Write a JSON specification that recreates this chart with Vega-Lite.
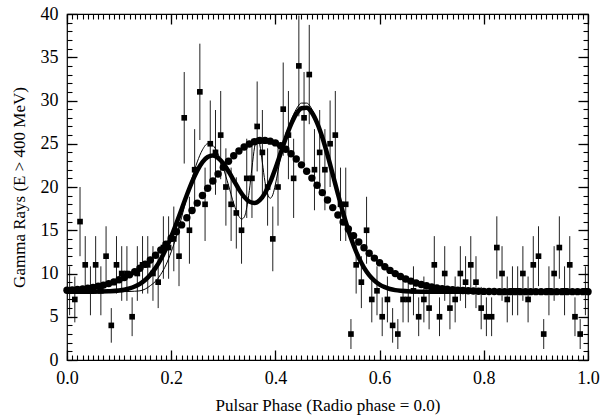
{
  "$schema": "https://vega.github.io/schema/vega-lite/v6.json",
  "width": 521,
  "height": 346,
  "autosize": "none",
  "padding": {"left": 67, "top": 14, "right": 17, "bottom": 56},
  "background": "white",
  "config": {
    "view": {"stroke": "black", "strokeWidth": 1.2},
    "font": "Liberation Serif"
  },
  "datasets": {
    "obs": [
      {"phase":0.005,"counts":8,"lo":5.17,"hi":10.83},{"phase":0.015,"counts":7,"lo":4.35,"hi":9.65},{"phase":0.025,"counts":16,"lo":12,"hi":20},{"phase":0.035,"counts":11,"lo":7.68,"hi":14.32},{"phase":0.045,"counts":8,"lo":5.17,"hi":10.83},
      {"phase":0.055,"counts":11,"lo":7.68,"hi":14.32},{"phase":0.065,"counts":8,"lo":5.17,"hi":10.83},{"phase":0.075,"counts":12,"lo":8.54,"hi":15.46},{"phase":0.085,"counts":4,"lo":2,"hi":6},{"phase":0.095,"counts":11,"lo":7.68,"hi":14.32},
      {"phase":0.105,"counts":10,"lo":6.84,"hi":13.16},{"phase":0.115,"counts":10,"lo":6.84,"hi":13.16},{"phase":0.125,"counts":5,"lo":2.76,"hi":7.24},{"phase":0.135,"counts":10,"lo":6.84,"hi":13.16},{"phase":0.145,"counts":11,"lo":7.68,"hi":14.32},
      {"phase":0.155,"counts":11,"lo":7.68,"hi":14.32},{"phase":0.165,"counts":10,"lo":6.84,"hi":13.16},{"phase":0.175,"counts":9,"lo":6,"hi":12},{"phase":0.185,"counts":13,"lo":9.39,"hi":16.61},{"phase":0.195,"counts":13,"lo":9.39,"hi":16.61},
      {"phase":0.205,"counts":14,"lo":10.26,"hi":17.74},{"phase":0.215,"counts":12,"lo":8.54,"hi":15.46},{"phase":0.225,"counts":28,"lo":22.71,"hi":33.29},{"phase":0.235,"counts":15,"lo":11.13,"hi":18.87},{"phase":0.245,"counts":22,"lo":17.31,"hi":26.69},
      {"phase":0.255,"counts":31,"lo":25.43,"hi":36.57},{"phase":0.265,"counts":18,"lo":13.76,"hi":22.24},{"phase":0.275,"counts":25,"lo":20,"hi":30},{"phase":0.285,"counts":24,"lo":19.1,"hi":28.9},{"phase":0.295,"counts":26,"lo":20.9,"hi":31.1},
      {"phase":0.305,"counts":20,"lo":15.53,"hi":24.47},{"phase":0.315,"counts":18,"lo":13.76,"hi":22.24},{"phase":0.325,"counts":17,"lo":12.88,"hi":21.12},{"phase":0.335,"counts":15,"lo":11.13,"hi":18.87},{"phase":0.345,"counts":21,"lo":16.42,"hi":25.58},
      {"phase":0.355,"counts":21,"lo":16.42,"hi":25.58},{"phase":0.365,"counts":27,"lo":21.8,"hi":32.2},{"phase":0.375,"counts":24,"lo":19.1,"hi":28.9},{"phase":0.385,"counts":20,"lo":15.53,"hi":24.47},{"phase":0.395,"counts":14,"lo":10.26,"hi":17.74},
      {"phase":0.405,"counts":20,"lo":15.53,"hi":24.47},{"phase":0.415,"counts":29,"lo":23.61,"hi":34.39},{"phase":0.425,"counts":26,"lo":20.9,"hi":31.1},{"phase":0.435,"counts":21,"lo":16.42,"hi":25.58},{"phase":0.445,"counts":34,"lo":28.17,"hi":39.83},
      {"phase":0.455,"counts":28,"lo":22.71,"hi":33.29},{"phase":0.465,"counts":33,"lo":27.26,"hi":38.74},{"phase":0.475,"counts":22,"lo":17.31,"hi":26.69},{"phase":0.485,"counts":24,"lo":19.1,"hi":28.9},{"phase":0.495,"counts":22,"lo":17.31,"hi":26.69},
      {"phase":0.505,"counts":25,"lo":20,"hi":30},{"phase":0.515,"counts":26,"lo":20.9,"hi":31.1},{"phase":0.525,"counts":18,"lo":13.76,"hi":22.24},{"phase":0.535,"counts":18,"lo":13.76,"hi":22.24},{"phase":0.545,"counts":3,"lo":1.27,"hi":4.73},
      {"phase":0.555,"counts":11,"lo":7.68,"hi":14.32},{"phase":0.565,"counts":9,"lo":6,"hi":12},{"phase":0.575,"counts":15,"lo":11.13,"hi":18.87},{"phase":0.585,"counts":7,"lo":4.35,"hi":9.65},{"phase":0.595,"counts":8,"lo":5.17,"hi":10.83},
      {"phase":0.605,"counts":5,"lo":2.76,"hi":7.24},{"phase":0.615,"counts":7,"lo":4.35,"hi":9.65},{"phase":0.625,"counts":4,"lo":2,"hi":6},{"phase":0.635,"counts":3,"lo":1.27,"hi":4.73},{"phase":0.645,"counts":7,"lo":4.35,"hi":9.65},
      {"phase":0.655,"counts":7,"lo":4.35,"hi":9.65},{"phase":0.665,"counts":8,"lo":5.17,"hi":10.83},{"phase":0.675,"counts":5,"lo":2.76,"hi":7.24},{"phase":0.685,"counts":7,"lo":4.35,"hi":9.65},{"phase":0.695,"counts":6,"lo":3.55,"hi":8.45},
      {"phase":0.705,"counts":11,"lo":7.68,"hi":14.32},{"phase":0.715,"counts":5,"lo":2.76,"hi":7.24},{"phase":0.725,"counts":10,"lo":6.84,"hi":13.16},{"phase":0.735,"counts":6,"lo":3.55,"hi":8.45},{"phase":0.745,"counts":7,"lo":4.35,"hi":9.65},
      {"phase":0.755,"counts":10,"lo":6.84,"hi":13.16},{"phase":0.765,"counts":9,"lo":6,"hi":12},{"phase":0.775,"counts":11,"lo":7.68,"hi":14.32},{"phase":0.785,"counts":9,"lo":6,"hi":12},{"phase":0.795,"counts":6,"lo":3.55,"hi":8.45},
      {"phase":0.805,"counts":5,"lo":2.76,"hi":7.24},{"phase":0.815,"counts":5,"lo":2.76,"hi":7.24},{"phase":0.825,"counts":13,"lo":9.39,"hi":16.61},{"phase":0.835,"counts":10,"lo":6.84,"hi":13.16},{"phase":0.845,"counts":7,"lo":4.35,"hi":9.65},
      {"phase":0.855,"counts":8,"lo":5.17,"hi":10.83},{"phase":0.865,"counts":8,"lo":5.17,"hi":10.83},{"phase":0.875,"counts":10,"lo":6.84,"hi":13.16},{"phase":0.885,"counts":7,"lo":4.35,"hi":9.65},{"phase":0.895,"counts":11,"lo":7.68,"hi":14.32},
      {"phase":0.905,"counts":12,"lo":8.54,"hi":15.46},{"phase":0.915,"counts":3,"lo":1.27,"hi":4.73},{"phase":0.925,"counts":8,"lo":5.17,"hi":10.83},{"phase":0.935,"counts":10,"lo":6.84,"hi":13.16},{"phase":0.945,"counts":13,"lo":9.39,"hi":16.61},
      {"phase":0.955,"counts":8,"lo":5.17,"hi":10.83},{"phase":0.965,"counts":11,"lo":7.68,"hi":14.32},{"phase":0.975,"counts":5,"lo":2.76,"hi":7.24},{"phase":0.985,"counts":3,"lo":1.27,"hi":4.73},{"phase":0.995,"counts":8,"lo":5.17,"hi":10.83}
    ],
    "thin": [
      {"phase":0.0,"rate":7.9},{"phase":0.1,"rate":7.9},{"phase":0.13,"rate":7.95},{"phase":0.14,"rate":8.0},{"phase":0.15,"rate":8.2},{"phase":0.16,"rate":8.6},{"phase":0.17,"rate":9.1},{"phase":0.18,"rate":9.9},{"phase":0.19,"rate":11.0},{"phase":0.2,"rate":12.5},
      {"phase":0.21,"rate":14.3},{"phase":0.22,"rate":16.5},{"phase":0.23,"rate":18.8},{"phase":0.24,"rate":21.0},{"phase":0.25,"rate":22.9},{"phase":0.26,"rate":24.3},{"phase":0.27,"rate":25.0},{"phase":0.28,"rate":24.8},{"phase":0.29,"rate":23.8},{"phase":0.3,"rate":22.2},
      {"phase":0.31,"rate":20.2},{"phase":0.32,"rate":18.1},{"phase":0.33,"rate":16.6},{"phase":0.335,"rate":16.3},{"phase":0.34,"rate":16.5},{"phase":0.345,"rate":17.6},{"phase":0.35,"rate":19.6},{"phase":0.355,"rate":22.2},{"phase":0.36,"rate":24.6},{"phase":0.365,"rate":25.7},
      {"phase":0.37,"rate":24.9},{"phase":0.375,"rate":22.8},{"phase":0.38,"rate":20.6},{"phase":0.385,"rate":19.2},{"phase":0.39,"rate":18.7},{"phase":0.395,"rate":19.1},{"phase":0.4,"rate":20.3},{"phase":0.41,"rate":23.4},{"phase":0.42,"rate":25.9},{"phase":0.43,"rate":27.7},
      {"phase":0.44,"rate":29.0},{"phase":0.45,"rate":29.7},{"phase":0.46,"rate":29.7},{"phase":0.47,"rate":29.0},{"phase":0.48,"rate":27.6},{"phase":0.49,"rate":25.8},{"phase":0.5,"rate":23.7},{"phase":0.51,"rate":21.4},{"phase":0.52,"rate":19.1},{"phase":0.53,"rate":16.9},
      {"phase":0.54,"rate":14.9},{"phase":0.55,"rate":13.2},{"phase":0.56,"rate":11.7},{"phase":0.57,"rate":10.5},{"phase":0.58,"rate":9.6},{"phase":0.59,"rate":9.0},{"phase":0.6,"rate":8.6},{"phase":0.62,"rate":8.1},{"phase":0.64,"rate":7.95},{"phase":0.66,"rate":7.9},{"phase":1.0,"rate":7.9}
    ],
    "thick": [
      {"phase":0.0,"rate":7.9},{"phase":0.05,"rate":7.9},{"phase":0.08,"rate":7.95},{"phase":0.1,"rate":8.04},{"phase":0.11,"rate":8.13},{"phase":0.12,"rate":8.27},{"phase":0.13,"rate":8.49},{"phase":0.14,"rate":8.81},{"phase":0.15,"rate":9.25},{"phase":0.16,"rate":9.86},
      {"phase":0.17,"rate":10.65},{"phase":0.18,"rate":11.65},{"phase":0.19,"rate":12.85},{"phase":0.2,"rate":14.25},{"phase":0.21,"rate":15.8},{"phase":0.22,"rate":17.43},{"phase":0.23,"rate":19.07},{"phase":0.24,"rate":20.59},{"phase":0.25,"rate":21.89},{"phase":0.26,"rate":22.88},
      {"phase":0.27,"rate":23.46},{"phase":0.28,"rate":23.63},{"phase":0.29,"rate":23.36},{"phase":0.3,"rate":22.72},{"phase":0.31,"rate":21.82},{"phase":0.32,"rate":20.77},{"phase":0.33,"rate":19.73},{"phase":0.34,"rate":18.86},{"phase":0.35,"rate":18.31},{"phase":0.36,"rate":18.15},
      {"phase":0.37,"rate":18.49},{"phase":0.38,"rate":19.3},{"phase":0.39,"rate":20.55},{"phase":0.4,"rate":22.14},{"phase":0.41,"rate":23.9},{"phase":0.42,"rate":25.66},{"phase":0.43,"rate":27.23},{"phase":0.44,"rate":28.43},{"phase":0.45,"rate":29.1},{"phase":0.46,"rate":29.17},
      {"phase":0.47,"rate":28.6},{"phase":0.48,"rate":27.42},{"phase":0.49,"rate":25.75},{"phase":0.5,"rate":23.71},{"phase":0.51,"rate":21.47},{"phase":0.52,"rate":19.19},{"phase":0.53,"rate":17.0},{"phase":0.54,"rate":15.0},{"phase":0.55,"rate":13.27},{"phase":0.56,"rate":11.83},
      {"phase":0.57,"rate":10.69},{"phase":0.58,"rate":9.82},{"phase":0.59,"rate":9.18},{"phase":0.6,"rate":8.72},{"phase":0.61,"rate":8.42},{"phase":0.62,"rate":8.21},{"phase":0.63,"rate":8.08},{"phase":0.64,"rate":8.0},{"phase":0.66,"rate":7.93},{"phase":0.7,"rate":7.9},{"phase":1.0,"rate":7.9}
    ],
    "dotted": [
      {"phase":0.0,"rate":8.06},{"phase":0.01,"rate":8.1},{"phase":0.02,"rate":8.15},{"phase":0.03,"rate":8.22},{"phase":0.04,"rate":8.3},{"phase":0.05,"rate":8.4},{"phase":0.06,"rate":8.52},{"phase":0.07,"rate":8.66},{"phase":0.08,"rate":8.83},{"phase":0.09,"rate":9.03},
      {"phase":0.1,"rate":9.27},{"phase":0.11,"rate":9.54},{"phase":0.12,"rate":9.85},{"phase":0.13,"rate":10.21},{"phase":0.14,"rate":10.61},{"phase":0.15,"rate":11.06},{"phase":0.16,"rate":11.56},{"phase":0.17,"rate":12.11},{"phase":0.18,"rate":12.72},{"phase":0.19,"rate":13.38},
      {"phase":0.2,"rate":14.08},{"phase":0.21,"rate":14.83},{"phase":0.22,"rate":15.62},{"phase":0.23,"rate":16.44},{"phase":0.24,"rate":17.28},{"phase":0.25,"rate":18.14},{"phase":0.26,"rate":19.01},{"phase":0.27,"rate":19.86},{"phase":0.28,"rate":20.7},{"phase":0.29,"rate":21.51},
      {"phase":0.3,"rate":22.27},{"phase":0.31,"rate":22.98},{"phase":0.32,"rate":23.61},{"phase":0.33,"rate":24.16},{"phase":0.34,"rate":24.62},{"phase":0.35,"rate":24.98},{"phase":0.36,"rate":25.23},{"phase":0.37,"rate":25.37},{"phase":0.38,"rate":25.39},{"phase":0.39,"rate":25.3},
      {"phase":0.4,"rate":25.1},{"phase":0.41,"rate":24.78},{"phase":0.42,"rate":24.36},{"phase":0.43,"rate":23.84},{"phase":0.44,"rate":23.24},{"phase":0.45,"rate":22.56},{"phase":0.46,"rate":21.82},{"phase":0.47,"rate":21.03},{"phase":0.48,"rate":20.2},{"phase":0.49,"rate":19.35},
      {"phase":0.5,"rate":18.49},{"phase":0.51,"rate":17.62},{"phase":0.52,"rate":16.77},{"phase":0.53,"rate":15.94},{"phase":0.54,"rate":15.14},{"phase":0.55,"rate":14.38},{"phase":0.56,"rate":13.65},{"phase":0.57,"rate":12.98},{"phase":0.58,"rate":12.35},{"phase":0.59,"rate":11.78},
      {"phase":0.6,"rate":11.25},{"phase":0.61,"rate":10.78},{"phase":0.62,"rate":10.36},{"phase":0.63,"rate":9.99},{"phase":0.64,"rate":9.66},{"phase":0.65,"rate":9.37},{"phase":0.66,"rate":9.12},{"phase":0.67,"rate":8.91},{"phase":0.68,"rate":8.73},{"phase":0.69,"rate":8.58},
      {"phase":0.7,"rate":8.45},{"phase":0.71,"rate":8.34},{"phase":0.72,"rate":8.25},{"phase":0.73,"rate":8.18},{"phase":0.74,"rate":8.12},{"phase":0.75,"rate":8.07},{"phase":0.76,"rate":8.04},{"phase":0.77,"rate":8.0},{"phase":0.78,"rate":7.97},{"phase":0.79,"rate":7.95},
      {"phase":0.8,"rate":7.93},{"phase":0.81,"rate":7.92},{"phase":0.82,"rate":7.91},{"phase":0.83,"rate":7.9},{"phase":0.84,"rate":7.9},{"phase":0.85,"rate":7.9},{"phase":0.86,"rate":7.9},{"phase":0.87,"rate":7.9},{"phase":0.88,"rate":7.9},{"phase":0.89,"rate":7.9},
      {"phase":0.9,"rate":7.9},{"phase":0.91,"rate":7.9},{"phase":0.92,"rate":7.9},{"phase":0.93,"rate":7.9},{"phase":0.94,"rate":7.9},{"phase":0.95,"rate":7.9},{"phase":0.96,"rate":7.9},{"phase":0.97,"rate":7.9},{"phase":0.98,"rate":7.9},{"phase":0.99,"rate":7.9},{"phase":1.0,"rate":7.9}
    ]
  },
  "resolve": {"axis": {"x": "independent", "y": "independent"}},
  "layer": [
    {
      "data": {"name": "obs"},
      "mark": {"type": "rule", "color": "#222", "strokeWidth": 1},
      "encoding": {
        "x": {"field": "phase", "type": "quantitative", "scale": {"domain": [0, 1], "nice": false, "zero": false},
              "axis": {"orient": "bottom", "values": [0, 0.2, 0.4, 0.6, 0.8, 1.0], "format": ".1f", "ticks": false, "domain": false, "grid": false, "labelFlush": false, "labelPadding": 9, "labelFontSize": 18, "labelFont": "Liberation Serif", "labelColor": "black", "title": "Pulsar Phase (Radio phase = 0.0)", "titleFont": "Liberation Serif", "titleFontWeight": "normal", "titleColor": "black", "titleFontSize": 17, "titlePadding": 10}},
        "y": {"field": "lo", "type": "quantitative", "scale": {"domain": [0, 40], "nice": false, "zero": false},
              "axis": {"orient": "left", "values": [0, 5, 10, 15, 20, 25, 30, 35, 40], "ticks": false, "domain": false, "grid": false, "labelFlush": false, "labelPadding": 9, "labelFontSize": 18, "labelFont": "Liberation Serif", "labelColor": "black", "title": "Gamma Rays (E > 400 MeV)", "titleFont": "Liberation Serif", "titleFontWeight": "normal", "titleColor": "black", "titleFontSize": 17, "titlePadding": 12}},
        "y2": {"field": "hi"}
      }
    },
    {
      "data": {"name": "obs"},
      "mark": {"type": "square", "color": "black", "filled": true, "size": 32, "opacity": 1},
      "encoding": {
        "x": {"field": "phase", "type": "quantitative", "scale": {"domain": [0, 1], "nice": false, "zero": false},
              "axis": {"orient": "bottom", "values": [0, 0.2, 0.4, 0.6, 0.8, 1.0], "labels": false, "ticks": true, "tickColor": "black", "tickWidth": 1.3, "tickSize": -10, "domain": false, "grid": false, "title": null, "zindex": 2}},
        "y": {"field": "counts", "type": "quantitative", "scale": {"domain": [0, 40], "nice": false, "zero": false},
              "axis": {"orient": "left", "values": [0, 5, 10, 15, 20, 25, 30, 35, 40], "labels": false, "ticks": true, "tickColor": "black", "tickWidth": 1.3, "tickSize": -10, "domain": false, "grid": false, "title": null, "zindex": 2}}
      }
    },
    {
      "data": {"name": "thin"},
      "mark": {"type": "line", "color": "black", "strokeWidth": 1, "interpolate": "monotone"},
      "encoding": {
        "x": {"field": "phase", "type": "quantitative", "scale": {"domain": [0, 1], "nice": false, "zero": false},
              "axis": {"orient": "bottom", "values": [0,0.01,0.02,0.03,0.04,0.05,0.06,0.07,0.08,0.09,0.1,0.11,0.12,0.13,0.14,0.15,0.16,0.17,0.18,0.19,0.2,0.21,0.22,0.23,0.24,0.25,0.26,0.27,0.28,0.29,0.3,0.31,0.32,0.33,0.34,0.35,0.36,0.37,0.38,0.39,0.4,0.41,0.42,0.43,0.44,0.45,0.46,0.47,0.48,0.49,0.5,0.51,0.52,0.53,0.54,0.55,0.56,0.57,0.58,0.59,0.6,0.61,0.62,0.63,0.64,0.65,0.66,0.67,0.68,0.69,0.7,0.71,0.72,0.73,0.74,0.75,0.76,0.77,0.78,0.79,0.8,0.81,0.82,0.83,0.84,0.85,0.86,0.87,0.88,0.89,0.9,0.91,0.92,0.93,0.94,0.95,0.96,0.97,0.98,0.99,1.0], "labels": false, "ticks": true, "tickColor": "black", "tickWidth": 1.1, "tickSize": -5, "domain": false, "grid": false, "title": null, "zindex": 2}},
        "y": {"field": "rate", "type": "quantitative", "scale": {"domain": [0, 40], "nice": false, "zero": false},
              "axis": {"orient": "left", "values": [0,1,2,3,4,5,6,7,8,9,10,11,12,13,14,15,16,17,18,19,20,21,22,23,24,25,26,27,28,29,30,31,32,33,34,35,36,37,38,39,40], "labels": false, "ticks": true, "tickColor": "black", "tickWidth": 1.1, "tickSize": -5, "domain": false, "grid": false, "title": null, "zindex": 2}}
      }
    },
    {
      "data": {"name": "thick"},
      "mark": {"type": "line", "color": "black", "strokeWidth": 4.5, "interpolate": "monotone"},
      "encoding": {
        "x": {"field": "phase", "type": "quantitative", "scale": {"domain": [0, 1], "nice": false, "zero": false},
              "axis": {"orient": "top", "values": [0, 0.2, 0.4, 0.6, 0.8, 1.0], "labels": false, "ticks": true, "tickColor": "black", "tickWidth": 1.3, "tickSize": -10, "domain": false, "grid": false, "title": null, "zindex": 2}},
        "y": {"field": "rate", "type": "quantitative", "scale": {"domain": [0, 40], "nice": false, "zero": false},
              "axis": {"orient": "right", "values": [0, 5, 10, 15, 20, 25, 30, 35, 40], "labels": false, "ticks": true, "tickColor": "black", "tickWidth": 1.3, "tickSize": -10, "domain": false, "grid": false, "title": null, "zindex": 2}}
      }
    },
    {
      "data": {"name": "dotted"},
      "mark": {"type": "circle", "color": "black", "size": 55, "opacity": 1},
      "encoding": {
        "x": {"field": "phase", "type": "quantitative", "scale": {"domain": [0, 1], "nice": false, "zero": false},
              "axis": {"orient": "top", "values": [0,0.01,0.02,0.03,0.04,0.05,0.06,0.07,0.08,0.09,0.1,0.11,0.12,0.13,0.14,0.15,0.16,0.17,0.18,0.19,0.2,0.21,0.22,0.23,0.24,0.25,0.26,0.27,0.28,0.29,0.3,0.31,0.32,0.33,0.34,0.35,0.36,0.37,0.38,0.39,0.4,0.41,0.42,0.43,0.44,0.45,0.46,0.47,0.48,0.49,0.5,0.51,0.52,0.53,0.54,0.55,0.56,0.57,0.58,0.59,0.6,0.61,0.62,0.63,0.64,0.65,0.66,0.67,0.68,0.69,0.7,0.71,0.72,0.73,0.74,0.75,0.76,0.77,0.78,0.79,0.8,0.81,0.82,0.83,0.84,0.85,0.86,0.87,0.88,0.89,0.9,0.91,0.92,0.93,0.94,0.95,0.96,0.97,0.98,0.99,1.0], "labels": false, "ticks": true, "tickColor": "black", "tickWidth": 1.1, "tickSize": -5, "domain": false, "grid": false, "title": null, "zindex": 2}},
        "y": {"field": "rate", "type": "quantitative", "scale": {"domain": [0, 40], "nice": false, "zero": false},
              "axis": {"orient": "right", "values": [0,1,2,3,4,5,6,7,8,9,10,11,12,13,14,15,16,17,18,19,20,21,22,23,24,25,26,27,28,29,30,31,32,33,34,35,36,37,38,39,40], "labels": false, "ticks": true, "tickColor": "black", "tickWidth": 1.1, "tickSize": -5, "domain": false, "grid": false, "title": null, "zindex": 2}}
      }
    }
  ]
}
